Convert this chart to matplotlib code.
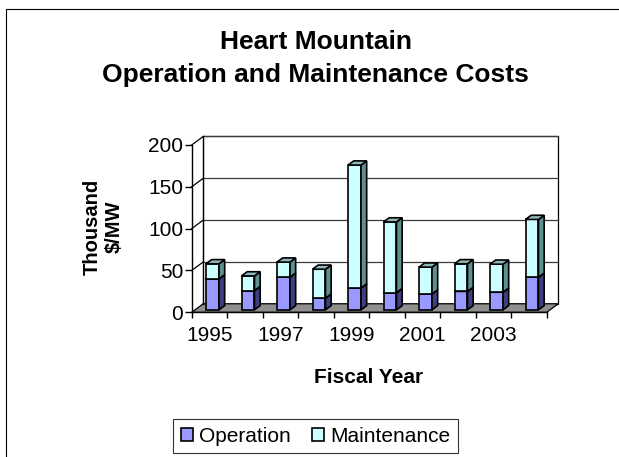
import matplotlib
matplotlib.use('Agg')
import matplotlib.pyplot as plt
from matplotlib.patches import Polygon, Rectangle, Patch

plt.rcParams['font.family'] = ['Liberation Sans', 'DejaVu Sans']

# data (thousand $/MW)
years = [1995, 1996, 1997, 1998, 1999, 2000, 2001, 2002, 2003, 2004]
operation = [37, 23, 39, 14, 26, 20.5, 19, 22, 21, 39]
maintenance = [18, 17.5, 18, 34.5, 147, 84.5, 32, 33, 33.5, 69]
year_labels = ['1995', '', '1997', '', '1999', '', '2001', '', '2003', '']

W, H = 619, 457
fig = plt.figure(figsize=(W / 100, H / 100), dpi=100)

def fx(px):
    return px / W

def fy(py):
    return 1 - py / H

# chart area border (right and bottom run off the image)
fig.patches.append(Rectangle((fx(5.5), fy(470)), fx(640), fy(8.5) - fy(470),
                             transform=fig.transFigure, fill=False,
                             edgecolor='black', lw=0.8))

ax = fig.add_axes([fx(191.7), fy(312.3), fx(546.7) - fx(191.7), fy(145) - fy(312.3)])
ax.set_xlim(0, len(years))
ax.set_ylim(0, 200)
ax.patch.set_alpha(0)
for s in ['top', 'right']:
    ax.spines[s].set_visible(False)
ax.spines['left'].set_linewidth(1.0)
ax.spines['bottom'].set_linewidth(1.0)

# 3d depth of walls and bars, in data units
dxw, dyw = 0.324, 10.2
n = len(years)

# back wall + floor
ax.add_patch(Polygon([(dxw, dyw), (n + dxw, dyw), (n + dxw, 200 + dyw), (dxw, 200 + dyw)],
                     closed=True, facecolor='white', edgecolor='black', lw=0.9,
                     clip_on=False, zorder=0.5))
ax.add_patch(Polygon([(0, 0), (n, 0), (n + dxw, dyw), (dxw, dyw)], closed=True,
                     facecolor='#8f8f8f', edgecolor='black', lw=0.9,
                     clip_on=False, zorder=0.6))
for v in [50, 100, 150, 200]:
    ax.plot([dxw, n + dxw], [v + dyw, v + dyw], color='#3a3a3a', lw=0.9,
            clip_on=False, zorder=0.7)
    ax.plot([0, dxw], [v, v + dyw], color='black', lw=0.9, clip_on=False, zorder=0.7)
ax.plot([dxw, dxw], [dyw, 200 + dyw], color='black', lw=0.9, clip_on=False, zorder=0.7)

# bars
bw, bdx, bdy, base, off = 0.366, 0.16, 5.0, 3.0, 0.403
op_cols = ('#9999ff', '#3f3f80', '#7070c0')
mt_cols = ('#ccffff', '#5f9090', '#90b8b8')
for i in range(n):
    x0 = i + off
    bottom = base
    for val, cols in [(operation[i], op_cols), (maintenance[i], mt_cols)]:
        top = bottom + val
        ax.bar(x0, val, width=bw, bottom=bottom, align='edge', color=cols[0],
               edgecolor='black', lw=1.2, zorder=3, clip_on=False)
        ax.add_patch(Polygon([(x0 + bw, bottom), (x0 + bw + bdx, bottom + bdy),
                              (x0 + bw + bdx, top + bdy), (x0 + bw, top)], closed=True,
                             facecolor=cols[1], edgecolor='black', lw=1.2,
                             zorder=3, clip_on=False))
        ax.add_patch(Polygon([(x0, top), (x0 + bdx, top + bdy), (x0 + bw + bdx, top + bdy),
                              (x0 + bw, top)], closed=True, facecolor=cols[2],
                             edgecolor='black', lw=1.2, zorder=3, clip_on=False))
        bottom = top

# ticks
ax.set_yticks([0, 50, 100, 150, 200])
ax.tick_params(axis='y', length=5, width=1.0, pad=1, labelsize=15)
ax.set_xticks(range(n + 1))
ax.set_xticklabels([])
ax.tick_params(axis='x', which='major', length=4, width=1.0)
ax.set_xticks([i + 0.5 for i in range(n)], minor=True)
ax.set_xticklabels(year_labels, minor=True)
ax.tick_params(axis='x', which='minor', length=0, pad=10, labelsize=15)

# texts
fig.text(fx(315.5), fy(49), 'Heart Mountain', ha='center', va='baseline',
         fontsize=19, fontweight='bold')
fig.text(fx(315.5), fy(82), 'Operation and Maintenance Costs', ha='center', va='baseline',
         fontsize=19, fontweight='bold')
fig.text(fx(368.3), fy(382.7), 'Fiscal Year', ha='center', va='baseline',
         fontsize=15, fontweight='bold')
fig.text(fx(103.3), fy(226.5), 'Thousand\n$/MW', ha='center', va='center',
         rotation=90, fontsize=14.5, fontweight='bold', linespacing=1.15)

handles = [Patch(facecolor=op_cols[0], edgecolor='black', lw=1.2, label='Operation'),
           Patch(facecolor=mt_cols[0], edgecolor='black', lw=1.2, label='Maintenance')]
leg = fig.legend(handles=handles, loc='upper left', bbox_to_anchor=(fx(173.3), fy(419.3)),
                 ncol=2, fontsize=15, frameon=True, fancybox=False, borderaxespad=0,
                 handlelength=0.6, handleheight=0.6, handletextpad=0.3,
                 columnspacing=1.0, borderpad=0.35)
leg.get_frame().set_edgecolor('black')
leg.get_frame().set_linewidth(0.8)

fig.savefig('out.png', dpi=100)
